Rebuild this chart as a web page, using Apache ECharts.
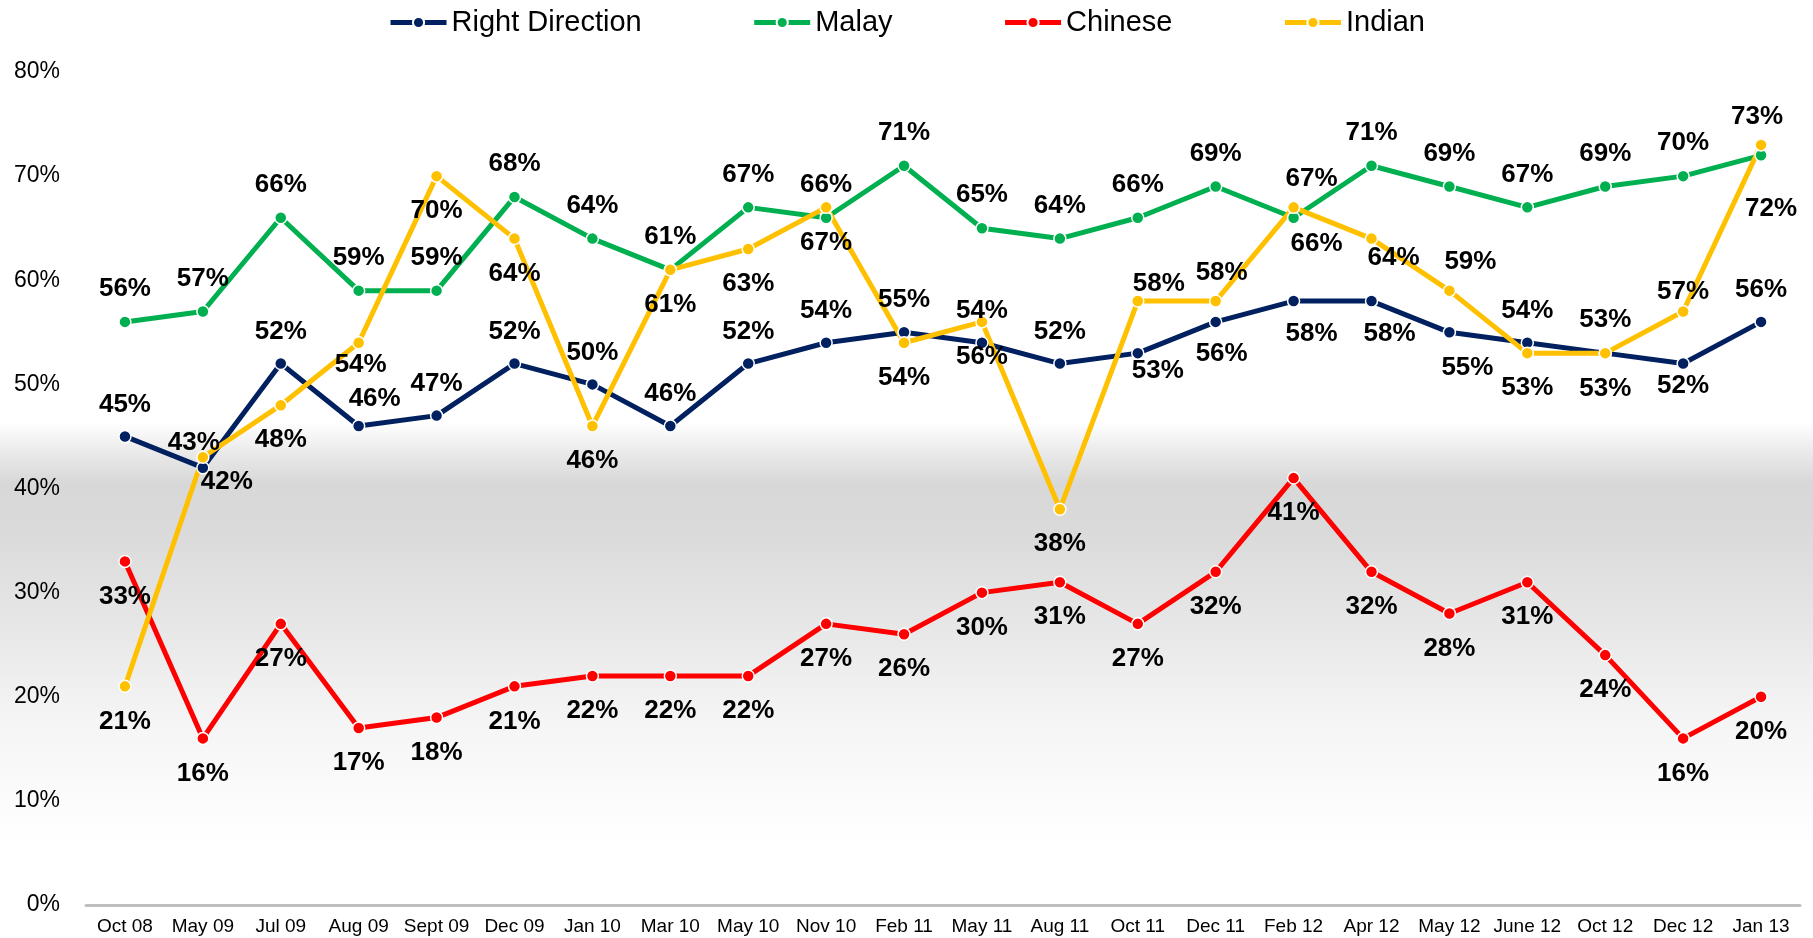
<!DOCTYPE html>
<html>
<head>
<meta charset="utf-8">
<title>Right Direction by race</title>
<script src="https://cdn.jsdelivr.net/npm/echarts@6/dist/echarts.min.js"></script>
<style>
  html, body { margin: 0; padding: 0; background: #fff; }
  #chart { width: 1813px; height: 938px; }
</style>
</head>
<body>
<div id="chart"></div>
<script>
'use strict';

const categories = ['Oct 08', 'May 09', 'Jul 09', 'Aug 09', 'Sept 09', 'Dec 09', 'Jan 10', 'Mar 10',
  'May 10', 'Nov 10', 'Feb 11', 'May 11', 'Aug 11', 'Oct 11', 'Dec 11', 'Feb 12', 'Apr 12',
  'May 12', 'June 12', 'Oct 12', 'Dec 12', 'Jan 13'];

const rightDirection = [45, 42, 52, 46, 47, 52, 50, 46, 52, 54, 55, 54, 52, 53, 56, 58, 58, 55, 54, 53, 52, 56];
const malay = [56, 57, 66, 59, 59, 68, 64, 61, 67, 66, 71, 65, 64, 66, 69, 66, 71, 69, 67, 69, 70, 72];
const chinese = [33, 16, 27, 17, 18, 21, 22, 22, 22, 27, 26, 30, 31, 27, 32, 41, 32, 28, 31, 24, 16, 20];
const indian = [21, 43, 48, 54, 70, 64, 46, 61, 63, 67, 54, 56, 38, 58, 58, 67, 64, 59, 53, 53, 57, 73];

const FONT = '"Liberation Sans", Arial, sans-serif';

// where each value label sits, relative to its point: a default and the few that dodge
const labelPlacement = {
  'Right Direction': {base: [0, -32], moved: {1: [24, 14], 3: [16, -27], 13: [20, 18], 14: [6, 32],
    15: [18, 33], 16: [18, 33], 17: [18, 36], 19: [0, 36], 20: [0, 22]}},
  'Malay': {base: [0, -33], moved: {15: [23, 26], 21: [10, 54]}},
  'Chinese': {base: [0, 35], moved: {}},
  'Indian': {base: [0, 35], moved: {1: [-9, -14], 3: [2, 22], 13: [21, -17], 14: [6, -28],
    15: [18, -29], 16: [22, 19], 17: [21, -29], 19: [0, -33], 20: [0, -20], 21: [-4, -28]}}
};

function lineSeries(name, values, color) {
  const place = labelPlacement[name];
  return {
    name: name,
    type: 'line',
    data: values.map((v, i) => ({value: v, label: {offset: place.moved[i] || place.base}})),
    symbol: 'circle',
    symbolSize: 12,
    lineStyle: {color: color, width: 5},
    itemStyle: {color: color, borderColor: '#fff', borderWidth: 1.5},
    label: {
      show: true,
      position: 'inside',
      formatter: '{c}%',
      color: '#000',
      fontFamily: FONT,
      fontWeight: 'bold',
      fontSize: 26
    },
    emphasis: {disabled: true}
  };
}

const chart = echarts.init(document.getElementById('chart'));
chart.setOption({
  animation: false,
  backgroundColor: new echarts.graphic.LinearGradient(0, 0, 0, 1, [
    {offset: 0, color: '#ffffff'},
    {offset: 0.45, color: '#ffffff'},
    {offset: 0.485, color: '#e8e8e8'},
    {offset: 0.515, color: '#d8d8d8'},
    {offset: 0.565, color: '#dadada'},
    {offset: 0.66, color: '#e6e6e6'},
    {offset: 0.77, color: '#f5f5f5'},
    {offset: 0.9, color: '#ffffff'},
    {offset: 1, color: '#ffffff'}
  ]),
  legend: {
    top: 3,
    left: 'center',
    itemGap: 110,
    itemWidth: 56,
    itemHeight: 14,
    lineStyle: {width: 5},
    textStyle: {fontFamily: FONT, fontSize: 29, color: '#000'},
    data: ['Right Direction', 'Malay', 'Chinese', 'Indian']
  },
  grid: {left: 86, right: 13, top: 72, bottom: 33},
  xAxis: {
    type: 'category',
    data: categories,
    boundaryGap: true,
    axisLine: {lineStyle: {color: '#BFBFBF', width: 3}},
    axisTick: {alignWithLabel: true, length: 5, lineStyle: {color: '#BFBFBF', width: 2}},
    axisLabel: {interval: 0, fontFamily: FONT, fontSize: 19, color: '#000', margin: 12}
  },
  yAxis: {
    type: 'value',
    min: 0,
    max: 80,
    interval: 10,
    axisLine: {show: false},
    axisTick: {show: false},
    splitLine: {show: false},
    axisLabel: {formatter: '{value}%', fontFamily: FONT, fontSize: 23, color: '#000', margin: 26}
  },
  series: [
    lineSeries('Right Direction', rightDirection, '#002060'),
    lineSeries('Malay', malay, '#00B050'),
    lineSeries('Chinese', chinese, '#FF0000'),
    lineSeries('Indian', indian, '#FFC000')
  ]
});
</script>
</body>
</html>
